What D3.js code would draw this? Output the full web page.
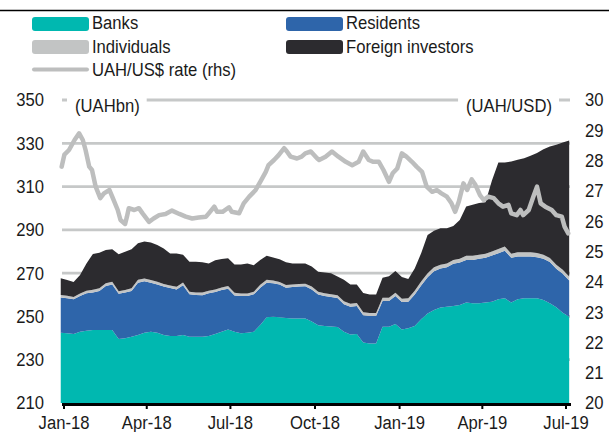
<!DOCTYPE html>
<html><head><meta charset="utf-8">
<script src="https://cdn.jsdelivr.net/npm/d3@7"></script>
<style>
html,body{margin:0;padding:0;background:#fff;}
svg{display:block;}
text{font-family:"Liberation Sans",Arial,sans-serif;font-size:18.5px;fill:#1a1a1a;}
</style></head>
<body><svg id="c" width="609" height="432"></svg>
<script>
// ---- data (weekly, UAHbn) ----
const weeks = ["2017-12-29","2018-01-05","2018-01-12","2018-01-19","2018-01-26","2018-02-02","2018-02-09","2018-02-16","2018-02-23","2018-03-02","2018-03-09","2018-03-16","2018-03-23","2018-03-30","2018-04-06","2018-04-13","2018-04-20","2018-04-27","2018-05-04","2018-05-11","2018-05-18","2018-05-25","2018-06-01","2018-06-08","2018-06-15","2018-06-22","2018-06-29","2018-07-06","2018-07-13","2018-07-20","2018-07-27","2018-08-03","2018-08-10","2018-08-17","2018-08-24","2018-08-31","2018-09-07","2018-09-14","2018-09-21","2018-09-28","2018-10-05","2018-10-12","2018-10-19","2018-10-26","2018-11-02","2018-11-09","2018-11-16","2018-11-23","2018-11-30","2018-12-07","2018-12-14","2018-12-21","2018-12-28","2019-01-04","2019-01-11","2019-01-18","2019-01-25","2019-02-01","2019-02-08","2019-02-15","2019-02-22","2019-03-01","2019-03-08","2019-03-15","2019-03-22","2019-03-29","2019-04-05","2019-04-12","2019-04-19","2019-04-26","2019-05-03","2019-05-10","2019-05-17","2019-05-24","2019-05-31","2019-06-07","2019-06-14","2019-06-21","2019-06-28","2019-07-05"];
const banks = [242.5,242.2,241.9,242.9,243.4,243.7,243.7,243.7,243.7,239.6,239.9,240.6,241.4,242.5,242.9,242.5,241.4,240.9,240.9,241.4,240.6,240.6,240.6,240.9,241.9,242.9,244.0,242.9,242.2,242.5,242.9,246.0,249.6,249.9,249.6,249.3,249.1,249.1,249.1,247.6,245.9,245.6,245.3,245.1,242.9,241.7,241.9,237.9,237.5,237.5,245.2,245.2,246.5,244.0,244.5,245.6,248.7,251.4,253.0,254.1,254.5,254.8,255.3,256.4,256.1,256.1,256.4,256.8,257.9,258.4,256.4,257.9,258.4,258.4,258.4,257.6,256.1,254.2,251.7,249.9];
const residents = [16.2,16.2,16.0,16.5,17.3,17.3,18.1,20.4,21.1,20.9,21.1,21.2,24.2,23.7,22.7,22.3,22.4,22.2,21.6,23.0,19.6,19.3,19.2,19.8,19.4,19.3,18.8,16.8,17.2,16.9,17.3,17.3,16.0,15.4,15.1,14.0,14.5,14.7,14.8,14.9,14.2,13.8,13.7,13.4,12.7,12.8,12.9,12.6,12.7,12.7,11.9,11.9,12.9,12.7,12.3,14.5,15.6,16.7,17.9,18.0,18.2,19.5,19.6,19.7,20.0,20.5,20.7,21.3,21.3,22.0,20.7,19.8,19.3,19.3,19.0,19.0,19.0,17.8,18.0,16.7];
const individuals = [1.2,1.2,1.1,1.2,1.2,1.3,1.2,1.2,1.2,1.1,1.2,1.2,1.3,1.3,1.2,1.2,1.2,1.2,1.2,1.3,1.2,1.2,1.2,1.2,1.2,1.2,1.3,1.2,1.2,1.2,1.2,1.3,1.3,1.3,1.2,1.2,1.2,1.2,1.2,1.3,1.3,1.3,1.3,1.3,1.4,1.4,1.4,1.4,1.4,1.4,1.5,1.5,1.5,1.5,1.6,1.8,1.8,1.8,1.8,1.8,1.8,1.8,1.8,1.9,1.9,1.9,1.9,1.9,1.9,1.9,1.9,1.9,1.9,1.9,1.9,1.9,1.9,1.9,1.9,1.9];
const foreign = [7.7,7.2,6.9,8.5,12.6,16.6,16.4,15.4,15.0,17.1,17.7,18.0,16.9,17.1,17.4,17.0,16.4,14.8,15.4,12.8,13.9,14.2,14.0,12.6,13.5,13.1,12.8,13.1,13.4,13.9,12.3,11.5,11.1,10.6,10.5,10.5,9.7,9.5,9.4,9.3,9.2,9.6,9.7,8.6,10.0,8.8,8.5,8.9,8.5,8.5,9.3,10.0,10.1,10.0,8.9,10.3,13.1,17.7,16.9,16.8,16.2,15.7,17.9,22.8,23.6,23.9,23.7,32.8,40.0,38.8,42.6,42.8,43.5,44.6,46.2,48.8,51.5,55.4,58.8,62.8];

// ---- UAH/USD rate (rhs) ----
const rateDates = ["2017-12-30","2018-01-02","2018-01-07","2018-01-13","2018-01-18","2018-01-22","2018-01-25","2018-01-29","2018-02-01","2018-02-05","2018-02-10","2018-02-14","2018-02-20","2018-02-23","2018-03-01","2018-03-04","2018-03-09","2018-03-11","2018-03-13","2018-03-19","2018-03-24","2018-03-28","2018-04-04","2018-04-09","2018-04-15","2018-04-22","2018-04-29","2018-05-07","2018-05-14","2018-05-21","2018-05-28","2018-06-05","2018-06-08","2018-06-14","2018-06-17","2018-06-23","2018-06-30","2018-07-03","2018-07-11","2018-07-16","2018-07-22","2018-07-29","2018-08-03","2018-08-09","2018-08-12","2018-08-18","2018-08-23","2018-08-29","2018-09-01","2018-09-05","2018-09-12","2018-09-17","2018-09-21","2018-09-27","2018-10-04","2018-10-06","2018-10-13","2018-10-20","2018-10-27","2018-11-04","2018-11-11","2018-11-18","2018-11-23","2018-11-29","2018-12-04","2018-12-10","2018-12-15","2018-12-21","2018-12-25","2018-12-30","2019-01-04","2019-01-09","2019-01-15","2019-01-20","2019-01-26","2019-01-31","2019-02-06","2019-02-11","2019-02-16","2019-02-22","2019-02-27","2019-03-03","2019-03-07","2019-03-12","2019-03-16","2019-03-21","2019-03-25","2019-03-30","2019-04-03","2019-04-08","2019-04-14","2019-04-19","2019-04-24","2019-04-30","2019-05-03","2019-05-09","2019-05-13","2019-05-16","2019-05-22","2019-05-27","2019-05-31","2019-06-04","2019-06-09","2019-06-16","2019-06-21","2019-06-27","2019-06-30","2019-07-04"];
const rateValues = [27.80,28.20,28.35,28.68,28.90,28.68,28.35,27.80,27.69,27.14,26.76,26.92,27.03,26.81,26.37,26.04,25.91,26.15,26.43,26.37,26.43,26.26,25.98,26.09,26.20,26.24,26.35,26.24,26.15,26.09,26.12,26.15,26.26,26.48,26.31,26.31,26.46,26.31,26.26,26.59,26.81,27.03,27.30,27.63,27.85,28.02,28.18,28.41,28.30,28.13,28.07,28.13,28.24,28.30,28.07,28.02,28.13,28.30,28.13,27.96,27.85,27.96,28.30,28.02,27.96,27.96,27.69,27.30,27.58,27.74,28.24,28.13,27.96,27.80,27.63,27.14,26.97,27.03,26.92,26.81,26.59,26.31,26.65,27.25,27.03,27.38,27.20,26.86,26.70,26.81,26.76,26.59,26.48,26.54,26.26,26.20,26.37,26.20,26.37,26.81,27.14,26.59,26.48,26.37,26.20,26.15,25.82,25.60];

const seriesKeys = ["Banks","Residents","Individuals","Foreign investors"];
const seriesColors = ["#00b8b0","#2e65aa","#c2c4c4","#2c2b2f"];
const leftTicks = [210,230,250,270,290,310,330,350];
const rightTicks = [20,21,22,23,24,25,26,27,28,29,30];
const xTickDates = ["2018-01-01","2018-04-01","2018-07-01","2018-10-01","2019-01-01","2019-04-01","2019-07-01"];
const xTickLabels = ["Jan-18","Apr-18","Jul-18","Oct-18","Jan-19","Apr-19","Jul-19"];
const rateLabel = "UAH/US$ rate (rhs)";

// ---- setup ----
const SX = 0.9; // condensed look
const parse = d3.timeParse("%Y-%m-%d");
const svg = d3.select("#c");
const X0 = 62, X1 = 570, Y0 = 403, Y1 = 100;
const x = d3.scaleTime().domain([parse("2018-01-01"), parse("2019-07-01")]).range([63.5, 565.5]);
const yL = d3.scaleLinear().domain([210, 350]).range([Y0, Y1]);
const yR = d3.scaleLinear().domain([20, 30]).range([Y0, Y1]);

const table = weeks.map((w, i) => ({
  date: parse(w),
  "Banks": banks[i], "Residents": residents[i],
  "Individuals": individuals[i], "Foreign investors": foreign[i]
}));
const stacked = d3.stack().keys(seriesKeys)(table);

function label(txt, tx, ty, anchor) {
  return svg.append("text").attr("transform", `translate(${tx},${ty}) scale(${SX},1)`)
    .attr("text-anchor", anchor || "start").text(txt);
}

// top rule
svg.append("line").attr("x1",0).attr("x2",609).attr("y1",10.5).attr("y2",10.5)
  .attr("stroke","#000").attr("stroke-width",1.5);

// gridlines
svg.append("g").selectAll("line").data(leftTicks.filter(v => v > 210)).join("line")
  .attr("x1", X0).attr("x2", X1).attr("y1", d => yL(d)).attr("y2", d => yL(d))
  .attr("stroke","#c6c8c8").attr("stroke-width",2.8);

// clip
svg.append("clipPath").attr("id","plot").append("rect")
  .attr("x", X0 - 2).attr("y", Y1).attr("width", X1 - X0 + 6).attr("height", Y0 - Y1);

const area = d3.area().x(d => x(d.data.date))
  .y0(d => yL(Math.max(d[0], 205))).y1(d => yL(d[1]));
svg.append("g").attr("clip-path","url(#plot)").selectAll("path").data(stacked).join("path")
  .attr("d", area).attr("fill", (d, i) => seriesColors[i]);

// rate line
const rateData = rateDates.map((d, i) => ({date: parse(d), v: rateValues[i]}));
svg.append("path").datum(rateData)
  .attr("d", d3.line().x(d => x(d.date)).y(d => yR(d.v)))
  .attr("fill","none").attr("stroke","#bdbebe").attr("stroke-width",4.5)
  .attr("stroke-linejoin","round").attr("stroke-linecap","round");

// x axis
const xAxis = d3.axisBottom(x).tickValues(xTickDates.map(parse))
  .tickFormat((d, i) => xTickLabels[i]).tickSize(6).tickSizeOuter(0).tickPadding(7);
const gx = svg.append("g").attr("transform", `translate(0,${Y0})`).call(xAxis);
gx.select(".domain").attr("d", `M${X0},1.5H${X1 + 1}`).attr("stroke","#000").attr("stroke-width",3);
gx.selectAll(".tick line").attr("stroke","#000").attr("stroke-width",2);
gx.selectAll(".tick text").attr("font-size",null).attr("font-family",null).attr("fill","#1a1a1a")
  .attr("transform", `scale(${SX},1)`);

// left axis
const gl = svg.append("g").attr("transform","translate(44,0)")
  .call(d3.axisLeft(yL).tickValues(leftTicks).tickSize(0).tickPadding(0));
gl.select(".domain").remove();
gl.selectAll(".tick text").attr("font-size",null).attr("font-family",null).attr("fill","#1a1a1a")
  .attr("transform", `scale(${SX},1)`);

// right axis
const gr = svg.append("g").attr("transform","translate(585,0)")
  .call(d3.axisRight(yR).tickValues(rightTicks).tickSize(0).tickPadding(0));
gr.select(".domain").remove();
gr.selectAll(".tick text").attr("font-size",null).attr("font-family",null).attr("fill","#1a1a1a")
  .attr("transform", `scale(${SX},1)`);

// unit labels with white background
function unitLabel(txt, xPos, anchor) {
  const t = label(txt, xPos, 112, anchor);
  const b = t.node().getBBox();
  svg.insert("rect", () => t.node()).attr("x", xPos + b.x * SX - 8).attr("y", Y1 - 3)
    .attr("width", b.width * SX + 15).attr("height", 6).attr("fill","#fff");
}
unitLabel("(UAHbn)", 75, "start");
unitLabel("(UAH/USD)", 552, "end");

// legend
const legendItems = [
  {name: seriesKeys[0], color: seriesColors[0], x: 32, y: 24, base: 29, type: "rect"},
  {name: seriesKeys[1], color: seriesColors[1], x: 286, y: 24, base: 29, type: "rect"},
  {name: seriesKeys[2], color: seriesColors[2], x: 32, y: 47, base: 52.5, type: "rect"},
  {name: seriesKeys[3], color: seriesColors[3], x: 286, y: 47, base: 52.5, type: "rect"},
  {name: rateLabel, color: "#bdbebe", x: 32, y: 69.5, base: 76, type: "line"}
];
const lg = svg.append("g");
legendItems.forEach(it => {
  if (it.type === "rect") {
    lg.append("rect").attr("x", it.x).attr("y", it.y - 7).attr("width", 57).attr("height", 14)
      .attr("rx", 3).attr("fill", it.color);
  } else {
    lg.append("line").attr("x1", it.x + 2).attr("x2", it.x + 55).attr("y1", it.y).attr("y2", it.y)
      .attr("stroke", it.color).attr("stroke-width", 4).attr("stroke-linecap","round");
  }
  label(it.name, it.x + 60, it.base);
});
</script></body></html>
